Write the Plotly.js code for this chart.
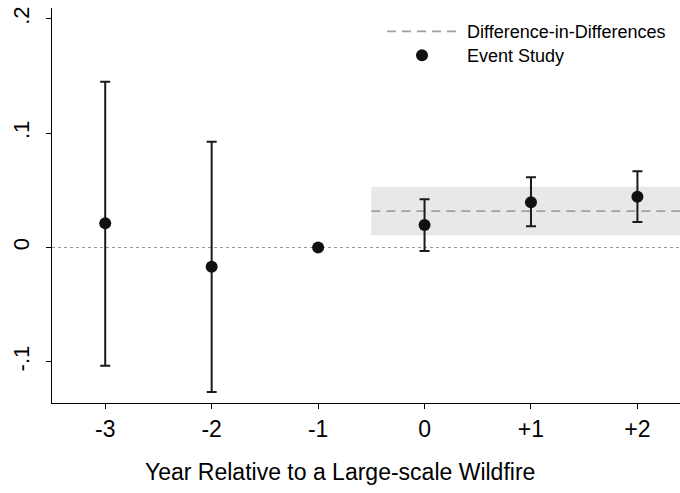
<!DOCTYPE html>
<html><head><meta charset="utf-8">
<script src="https://cdn.plot.ly/plotly-3.0.1.min.js"></script>
<style>html,body{margin:0;padding:0;background:#fff}</style>
</head><body>
<div id="chart" style="width:680px;height:493px"></div>
<script>
// Event-study estimates
var years = [-3, -2, -1, 0, 1, 2];
var yearLabels = ["-3", "-2", "-1", "0", "+1", "+2"];
var coef = [0.0212, -0.0168, 0, 0.0197, 0.0395, 0.0444];
var ciUpper = [0.145, 0.0926, 0, 0.0422, 0.0614, 0.0667];
var ciLower = [-0.1034, -0.1264, 0, -0.0031, 0.0185, 0.0223];
// Difference-in-differences estimate and CI
var didCoef = 0.0319;
var didUpper = 0.0532;
var didLower = 0.0107;
var didStart = -0.5;   // first post period minus half a year
var xMin = -3.5, xMax = 2.4;

var errPlus = coef.map(function(c, i){ return ciUpper[i] - c; });
var errMinus = coef.map(function(c, i){ return c - ciLower[i]; });

var F = "Liberation Sans, Arial, Helvetica, sans-serif";
var NB = "\u00a0";

var traces = [
  {
    x: [didStart, xMax], y: [didCoef, didCoef],
    mode: "lines", name: NB + "Difference-in-Differences", legend: "legend",
    line: {color: "#a0a0a0", width: 1.8, dash: "9px,6px"},
    hoverinfo: "skip"
  },
  {
    x: years, y: coef,
    mode: "markers", name: NB + "Event Study", legend: "legend2",
    marker: {color: "#111", size: 12},
    error_y: {type: "data", symmetric: false, array: errPlus, arrayminus: errMinus,
              color: "#1a1a1a", thickness: 2, width: 5}
  }
];

var legCommon = {xanchor: "left", yanchor: "top", bgcolor: "rgba(0,0,0,0)",
                 font: {size: 18, family: F}, itemwidth: 70};

var layout = {
  width: 680, height: 493,
  margin: {l: 52, r: 0, t: 8, b: 90},
  paper_bgcolor: "#fff", plot_bgcolor: "#fff",
  font: {family: F, color: "#000"},
  showlegend: true,
  legend: Object.assign({x: 0.5255, y: 0.987}, legCommon),
  legend2: Object.assign({x: 0.5255, y: 0.9266}, legCommon),
  xaxis: {
    range: [xMin, xMax], tickmode: "array", tickvals: years, ticktext: yearLabels,
    showgrid: false, zeroline: false, showline: true, linecolor: "#000", linewidth: 1,
    ticks: "outside", ticklen: 5, tickcolor: "#000",
    tickfont: {size: 23, family: F}
  },
  yaxis: {
    range: [-0.136, 0.2095], tickvals: [-0.1, 0, 0.1, 0.2], ticktext: ["-.1", "0", ".1", ".2"],
    tickangle: -90, ticklabelstandoff: 8,
    showgrid: false, zeroline: false, showline: true, linecolor: "#000", linewidth: 1,
    ticks: "outside", ticklen: 5, tickcolor: "#000",
    tickfont: {size: 22, family: F}
  },
  shapes: [
    {type: "rect", xref: "x", yref: "y", x0: didStart, x1: xMax, y0: didLower, y1: didUpper,
     fillcolor: "#e8e8e8", line: {width: 0}, layer: "below"},
    {type: "line", xref: "paper", yref: "y", x0: 0, x1: 1, y0: 0, y1: 0,
     line: {color: "#999", width: 1, dash: "dot"}, layer: "below"}
  ],
  annotations: [
    {text: "Year Relative to a Large-scale Wildfire", xref: "paper", yref: "paper",
     x: 0.4586, y: -0.1747, xanchor: "center", yanchor: "middle", showarrow: false,
     font: {size: 23, family: F, color: "#000"}}
  ]
};

Plotly.newPlot("chart", traces, layout, {staticPlot: true, displayModeBar: false});
</script>
</body></html>
